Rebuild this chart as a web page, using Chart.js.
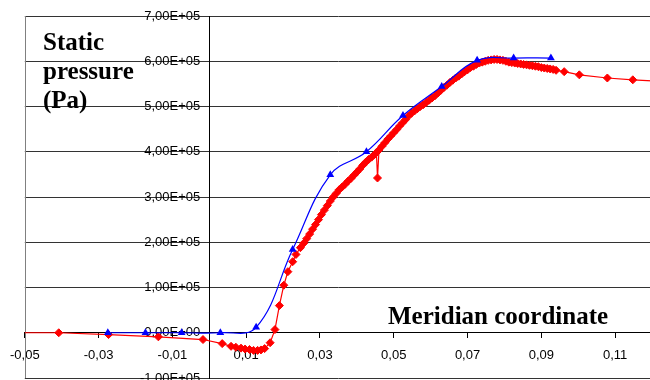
<!DOCTYPE html>
<html>
<head>
<meta charset="utf-8">
<script src="https://cdn.jsdelivr.net/npm/chart.js@4/dist/chart.umd.min.js"></script>
<style>
  html, body { margin: 0; padding: 0; background: #fff; overflow: hidden; }
</style>
</head>
<body>
<canvas id="pressureChart" width="660" height="390"></canvas>
<script>
// axis ticks (comma decimals like the original sheet)
var xTicks = [-0.05, -0.03, -0.01, 0.01, 0.03, 0.05, 0.07, 0.09, 0.11]
var xTickLabels = ["-0,05", "-0,03", "-0,01", "0,01", "0,03", "0,05", "0,07", "0,09", "0,11"]
var yTicks = [-100000, 0, 100000, 200000, 300000, 400000, 500000, 600000, 700000]
var yTickLabels = ["-1,00E+05", "0,00E+00", "1,00E+05", "2,00E+05", "3,00E+05", "4,00E+05", "5,00E+05", "6,00E+05", "7,00E+05"]

var yTitleLines = ["Static", "pressure", "(Pa)"]
var xTitle = "Meridian coordinate"

// blue series (triangles)
var blueX = [-0.0275, -0.0173, -0.0075, 0.003, 0.0127, 0.0226, 0.0328, 0.0426, 0.0525, 0.0630, 0.0726, 0.0825, 0.0926]
var blueY = [0, 0, 0, 0, 12000, 184000, 349000, 400000, 480000, 544000, 602000, 607000, 607000]

// red series (diamonds)
var redX = [-0.052, -0.0408, -0.0273, -0.0138, -0.0017, 0.0035, 0.0059, 0.0072, 0.0086, 0.0097,
  0.0109, 0.0120, 0.0131, 0.0140, 0.0150, 0.0165, 0.0178, 0.0190, 0.0202, 0.0213,
  0.0226, 0.0235, 0.0247, 0.0256, 0.0264, 0.0272, 0.0280, 0.0288, 0.0296, 0.0304,
  0.0312, 0.0320, 0.0328, 0.0336, 0.0344, 0.0352, 0.0360, 0.0368, 0.0376, 0.0384,
  0.0392, 0.0400, 0.0408, 0.0416, 0.0424, 0.0432, 0.0440, 0.0448, 0.0453, 0.0456,
  0.0460, 0.0468, 0.0476, 0.0484, 0.0492, 0.0500, 0.0508, 0.0516, 0.0524, 0.0532,
  0.0540, 0.0548, 0.0556, 0.0564, 0.0572, 0.0580, 0.0588, 0.0596, 0.0604, 0.0612,
  0.0620, 0.0628, 0.0636, 0.0644, 0.0652, 0.0660, 0.0668, 0.0676, 0.0684, 0.0692,
  0.0700, 0.0708, 0.0716, 0.0724, 0.0732, 0.0740, 0.0748, 0.0756, 0.0764, 0.0772,
  0.0780, 0.0788, 0.0796, 0.0804, 0.0812, 0.0820, 0.0828, 0.0836, 0.0844, 0.0852,
  0.0860, 0.0868, 0.0876, 0.0884, 0.0892, 0.0900, 0.0908, 0.0916, 0.0924, 0.0932,
  0.0940, 0.0962, 0.1003, 0.1079, 0.1148, 0.1220]
var redY = [0, 0, -4000, -9000, -15000, -24000, -30000, -32000, -34000, -36000,
  -37000, -39000, -39000, -38000, -35000, -22000, 7000, 60000, 105000, 135000,
  157000, 173000, 188000, 198000, 208000, 218000, 229000, 239000, 250000, 261000,
  271000, 281000, 291000, 300000, 308000, 316000, 322000, 328000, 335000, 341000,
  348000, 355000, 362000, 370000, 377000, 383000, 388000, 394000, 398000, 342000,
  404000, 412000, 420000, 428000, 435000, 442000, 449000, 457000, 464000, 471000,
  479000, 485000, 490000, 495000, 500000, 504000, 509000, 514000, 519000, 524000,
  530000, 536000, 542000, 547000, 553000, 558000, 563000, 567000, 572000, 577000,
  581000, 586000, 589000, 593000, 596000, 598000, 600000, 602000, 603000, 604000,
  604000, 603000, 602000, 600000, 598000, 597000, 596000, 595000, 594000, 593000,
  592000, 591000, 590000, 589000, 588000, 586000, 585000, 584000, 583000, 582000,
  580000, 577000, 570000, 563000, 559000, 556000]

function toPoints(xs, ys){
    return xs.map(function(x, i){ return {x: x, y: ys[i]} })
}

// titles, left frame line, and nudge y labels off the axis line
var extras = {
    id: 'extras',
    beforeDraw: function(chart){
        var items = chart.scales.y.getLabelItems()
        items.forEach(function(it){
            if (!it._moved) { it.options.translation[0] -= 9; it._moved = true }
        })
    },
    beforeDatasetsDraw: function(chart){
        var c = chart.ctx
        var a = chart.chartArea
        c.save()
        c.strokeStyle = '#808080'
        c.lineWidth = 1
        c.beginPath()
        c.moveTo(Math.round(a.left) + 0.5, a.top)
        c.lineTo(Math.round(a.left) + 0.5, a.bottom)
        c.stroke()
        c.restore()
    },
    afterDraw: function(chart){
        var c = chart.ctx
        c.save()
        c.fillStyle = '#000'
        c.font = 'bold 25px "Liberation Serif", "Times New Roman", serif'
        c.textBaseline = 'alphabetic'
        yTitleLines.forEach(function(t, i){ c.fillText(t, 43, 50 + i * 29) })
        c.fillText(xTitle, 388, 324)
        c.restore()
    }
}

var tickFont = {family: '"Liberation Sans", Arial, sans-serif', size: 13}

var ctx = document.getElementById("pressureChart").getContext('2d')
var chart = new Chart(ctx, {
    type: 'scatter',
    data: {
        datasets: [
            {
                label: "blue",
                data: toPoints(blueX, blueY),
                showLine: true,
                borderColor: '#0000ff',
                backgroundColor: '#0000ff',
                borderWidth: 1.2,
                tension: 0.4,
                pointStyle: 'triangle',
                pointRadius: 4.5,
                pointBorderWidth: 0
            },
            {
                label: "red",
                data: toPoints(redX, redY),
                showLine: true,
                borderColor: '#ff0000',
                backgroundColor: '#ff0000',
                borderWidth: 1.2,
                tension: 0,
                pointStyle: 'rectRot',
                pointRadius: 4,
                pointBorderWidth: 1,
                pointBorderColor: '#ff0000'
            }
        ]
    },
    options: {
        responsive: false,
        animation: false,
        layout: {padding: {left: 23, top: 16, right: 8, bottom: 12}},
        plugins: {
            legend: {display: false},
            tooltip: {enabled: false}
        },
        scales: {
            x: {
                type: 'linear',
                min: -0.05,
                max: 0.12,
                position: {y: 0},
                afterBuildTicks: function(s){ s.ticks = xTicks.map(function(v){ return {value: v} }) },
                ticks: {
                    callback: function(v, i){ return xTickLabels[i] },
                    font: tickFont,
                    color: '#000',
                    padding: 10,
                    maxRotation: 0,
                    autoSkip: false
                },
                grid: {drawOnChartArea: false, drawTicks: true, tickLength: 5, color: '#000'},
                border: {color: '#000', width: 1}
            },
            y: {
                min: -100000,
                max: 700000,
                position: {x: 0},
                afterBuildTicks: function(s){ s.ticks = yTicks.map(function(v){ return {value: v} }) },
                ticks: {
                    callback: function(v, i){ return yTickLabels[i] },
                    font: tickFont,
                    color: '#000',
                    padding: 3,
                    autoSkip: false
                },
                grid: {color: '#333', tickLength: 5},
                border: {color: '#000', width: 1}
            }
        }
    },
    plugins: [extras]
})
</script>
</body>
</html>
